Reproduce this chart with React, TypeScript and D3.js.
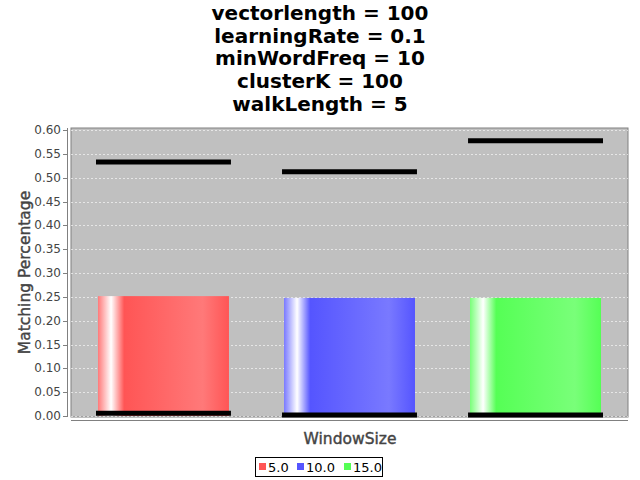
import React from "react";
import * as d3 from "d3";

const titleLines = [
  "vectorlength = 100",
  "learningRate = 0.1",
  "minWordFreq = 10",
  "clusterK = 100",
  "walkLength = 5",
];
const seriesNames = ["5.0", "10.0", "15.0"];
const seriesColors = ["#FF5555", "#5555FF", "#55FF55"];
const barValues = [0.2515, 0.2478, 0.2478];
const upperValues = [0.533, 0.5125, 0.5775];
const lowerValues = [0.006, 0.002, 0.002];
const yTicks = [0, 0.05, 0.1, 0.15, 0.2, 0.25, 0.3, 0.35, 0.4, 0.45, 0.5, 0.55, 0.6];

const W = 640;
const H = 480;
const plot = { left: 71, right: 628, top: 128, bottom: 417 };
const FONT = "'DejaVu Sans', sans-serif";

function brighter(hex: string) {
  const c = d3.rgb(hex);
  const f = (v: number) => Math.min(255, Math.round(v / 0.7));
  return d3.rgb(f(c.r), f(c.g), f(c.b)).formatHex();
}

export default function App() {
  const y = d3.scaleLinear().domain([0, 0.6]).range([416, 130]);
  const x = d3
    .scaleBand<string>()
    .domain(seriesNames)
    .range([98, 601])
    .paddingInner(0.296)
    .paddingOuter(0);
  const bw = x.bandwidth();
  const legendX = [259, 297, 344];

  return (
    <svg
      width={W}
      height={H}
      style={{ position: "absolute", left: 0, top: 0, background: "#fff" }}
      fontFamily={FONT}
    >
      <defs>
        {seriesColors.map((c, i) => {
          const b = brighter(c);
          return (
            <linearGradient key={i} id={`g${i}`} x1="0" x2="1" y1="0" y2="0">
              <stop offset="0" stopColor={b} />
              <stop offset="0.1" stopColor="#ffffff" />
              <stop offset="0.2" stopColor={c} />
              <stop offset="0.8" stopColor={b} />
              <stop offset="1" stopColor={c} />
            </linearGradient>
          );
        })}
      </defs>
      <rect x={0} y={0} width={W} height={H} fill="#fff" />
      {titleLines.map((t, i) => (
        <text
          key={i}
          x={320}
          y={20 + i * 22.7}
          textAnchor="middle"
          fontSize={20}
          fontWeight="bold"
          fill="#000"
        >
          {t}
        </text>
      ))}
      <rect
        x={plot.left}
        y={plot.top}
        width={plot.right - plot.left}
        height={plot.bottom - plot.top}
        fill="#C0C0C0"
        stroke="#808080"
        strokeWidth={1}
      />
      {yTicks.map((t, i) => (
        <line
          key={i}
          x1={plot.left}
          x2={plot.right}
          y1={Math.round(y(t)) + 0.5}
          y2={Math.round(y(t)) + 0.5}
          stroke="#ffffff"
          strokeWidth={0.6}
          strokeDasharray="2,2"
        />
      ))}
      {/* y axis */}
      <line x1={67.5} x2={67.5} y1={plot.top} y2={plot.bottom} stroke="#808080" />
      {yTicks.map((t, i) => (
        <g key={i}>
          <line
            x1={63}
            x2={67}
            y1={Math.round(y(t)) + 0.5}
            y2={Math.round(y(t)) + 0.5}
            stroke="#808080"
          />
          <text
            x={61}
            y={y(t) + 4}
            textAnchor="end"
            fontSize={12}
            fill="#444"
          >
            {d3.format(".2f")(t)}
          </text>
        </g>
      ))}
      <text
        transform={`translate(30,${(plot.top + plot.bottom) / 2}) rotate(-90)`}
        textAnchor="middle"
        fontSize={15.5}
        fill="#444"
        stroke="#444"
        strokeWidth={0.4}
      >
        Matching Percentage
      </text>
      {/* x axis */}
      <line x1={plot.left} x2={plot.right} y1={420.5} y2={420.5} stroke="#808080" />
      <text
        x={350}
        y={444}
        textAnchor="middle"
        fontSize={15.5}
        fill="#444"
        stroke="#444"
        strokeWidth={0.4}
      >
        WindowSize
      </text>
      {/* bars */}
      {seriesNames.map((s, i) => (
        <rect
          key={s}
          x={x(s)}
          y={y(barValues[i])}
          width={bw}
          height={y(0) - y(barValues[i])}
          fill={`url(#g${i})`}
        />
      ))}
      {/* interval lines */}
      {seriesNames.map((s, i) => (
        <g key={s}>
          {[upperValues[i], lowerValues[i]].map((v, j) => (
            <line
              key={j}
              x1={(x(s) as number) - 2}
              x2={(x(s) as number) + bw + 2}
              y1={y(v)}
              y2={y(v)}
              stroke="#000"
              strokeWidth={5}
            />
          ))}
        </g>
      ))}
      {/* legend */}
      <rect x={255.5} y={457.5} width={127} height={19} fill="#fff" stroke="#000" />
      {seriesNames.map((s, i) => (
        <g key={s}>
          <rect x={legendX[i]} y={463} width={7} height={7} fill={seriesColors[i]} />
          <text x={legendX[i] + 9} y={471.5} fontSize={13} fill="#000">
            {s}
          </text>
        </g>
      ))}
    </svg>
  );
}
